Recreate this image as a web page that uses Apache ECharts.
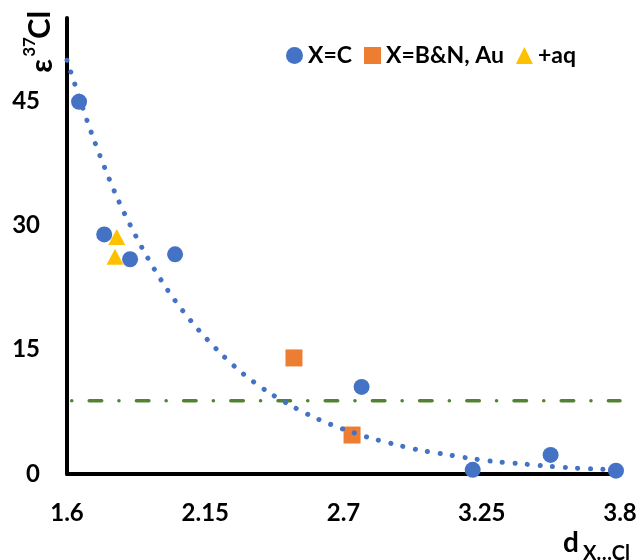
<!DOCTYPE html>
<html>
<head>
<meta charset="utf-8">
<script src="https://cdn.jsdelivr.net/npm/echarts@6/dist/echarts.min.js"></script>
<style>
  html, body { margin: 0; padding: 0; background: #fff; }
</style>
</head>
<body>
<div id="chart" style="width: 640px; height: 560px"></div>
<script>
// values
const xTicks = [1.6, 2.15, 2.7, 3.25, 3.8];
const yTicks = [0, 15, 30, 45];

const carbonPts = [
  [1.648, 44.9], [1.748, 28.9], [1.851, 25.9], [2.03, 26.5],
  [2.772, 10.5], [3.214, 0.5], [3.524, 2.3], [3.784, 0.4]
];
const boronPts = [[2.503, 14.0], [2.734, 4.7]];
const aqPts = [[1.798, 28.6], [1.791, 26.2]];

// dotted trend curve, every 0.1
const trendX = [1.6, 1.7, 1.8, 1.9, 2.0, 2.1, 2.2, 2.3, 2.4, 2.5, 2.6, 2.7,
  2.8, 2.9, 3.0, 3.1, 3.2, 3.3, 3.4, 3.5, 3.6, 3.7, 3.8];
const trendY = [49.9, 40.9, 33.3, 27.2, 22.2, 18.2, 14.9, 12.1, 9.9, 8.1, 6.6, 5.4,
  4.4, 3.6, 2.9, 2.4, 1.9, 1.5, 1.25, 0.97, 0.76, 0.6, 0.5];

// horizontal dash-dot reference level
const refLevel = 8.85;

const FONT = 'Lato, "Noto Sans", sans-serif';

const chart = echarts.init(document.getElementById('chart'));

const option = {
  animation: false,
  grid: {
    left: 67,
    right: 20,
    top: 18,
    bottom: 86,
    outerBoundsMode: 'none'
  },
  legend: {
    data: ['X=C', 'X=B&N, Au', '+aq'],
    left: 281,
    top: 39,
    itemWidth: 17,
    itemHeight: 17,
    itemGap: 12,
    textStyle: { fontFamily: FONT, fontWeight: 'bold', fontSize: 23, color: '#000' }
  },
  xAxis: {
    type: 'value',
    min: 1.6,
    max: 3.8,
    axisLine: { lineStyle: { color: '#000', width: 4 } },
    axisTick: { show: false },
    splitLine: { show: false },
    axisLabel: {
      customValues: xTicks,
      margin: 27,
      color: '#000',
      fontFamily: FONT,
      fontWeight: 'bold',
      fontSize: 24
    }
  },
  yAxis: {
    type: 'value',
    min: 0,
    max: 55,
    axisLine: { lineStyle: { color: '#000', width: 4 } },
    axisTick: { show: false },
    splitLine: { show: false },
    axisLabel: {
      customValues: yTicks,
      margin: 27,
      color: '#000',
      fontFamily: FONT,
      fontWeight: 'bold',
      fontSize: 24
    }
  },
  graphic: [
    { type: 'text', x: 40, y: 25, rotation: Math.PI / 2,
      style: { text: 'Cl', fill: '#000', font: 'bold 31px ' + FONT, align: 'center', verticalAlign: 'middle', textAlign: 'center', textVerticalAlign: 'middle' } },
    { type: 'text', x: 30, y: 47, rotation: Math.PI / 2,
      style: { text: '37', fill: '#000', font: 'bold 17px ' + FONT, align: 'center', verticalAlign: 'middle', textAlign: 'center', textVerticalAlign: 'middle' } },
    { type: 'text', x: 42, y: 66, rotation: Math.PI / 2,
      style: { text: 'ε', fill: '#000', font: 'bold 30px ' + FONT, align: 'center', verticalAlign: 'middle', textAlign: 'center', textVerticalAlign: 'middle' } },
    { type: 'text', x: 563, y: 543,
      style: { text: 'd', fill: '#000', font: 'bold 28px ' + FONT, align: 'left', verticalAlign: 'middle', textAlign: 'left', textVerticalAlign: 'middle' } },
    { type: 'text', x: 583, y: 554,
      style: { text: 'X…Cl', fill: '#000', font: 'bold 20px ' + FONT, align: 'left', verticalAlign: 'middle', textAlign: 'left', textVerticalAlign: 'middle' } }
  ],
  series: [
    {
      name: 'level',
      type: 'line',
      data: [[1.6, refLevel], [3.8, refLevel]],
      showSymbol: false,
      silent: true,
      lineStyle: { color: '#548235', width: 3.5, type: [0.1, 17.4, 12.5, 17.2], dashOffset: 42.5, cap: 'round' },
      z: 1
    },
    {
      name: 'X=C',
      type: 'scatter',
      symbol: 'circle',
      symbolSize: 16,
      itemStyle: { color: '#4472C4', opacity: 1 },
      data: carbonPts,
      z: 2
    },
    {
      name: 'X=B&N, Au',
      type: 'scatter',
      symbol: 'rect',
      symbolSize: 17,
      itemStyle: { color: '#ED7D31', opacity: 1 },
      data: boronPts,
      z: 2
    },
    {
      name: '+aq',
      type: 'scatter',
      symbol: 'triangle',
      symbolSize: [17, 16],
      itemStyle: { color: '#FFC000', opacity: 1 },
      data: aqPts,
      z: 2
    },
    {
      name: 'trend',
      type: 'line',
      data: trendX.map((x, i) => [x, trendY[i]]),
      showSymbol: false,
      smooth: 0.3,
      silent: true,
      lineStyle: { color: '#4472C4', width: 5, type: [0.1, 12.5], cap: 'round' },
      z: 3
    }
  ]
};
chart.setOption(option);
</script>
</body>
</html>
